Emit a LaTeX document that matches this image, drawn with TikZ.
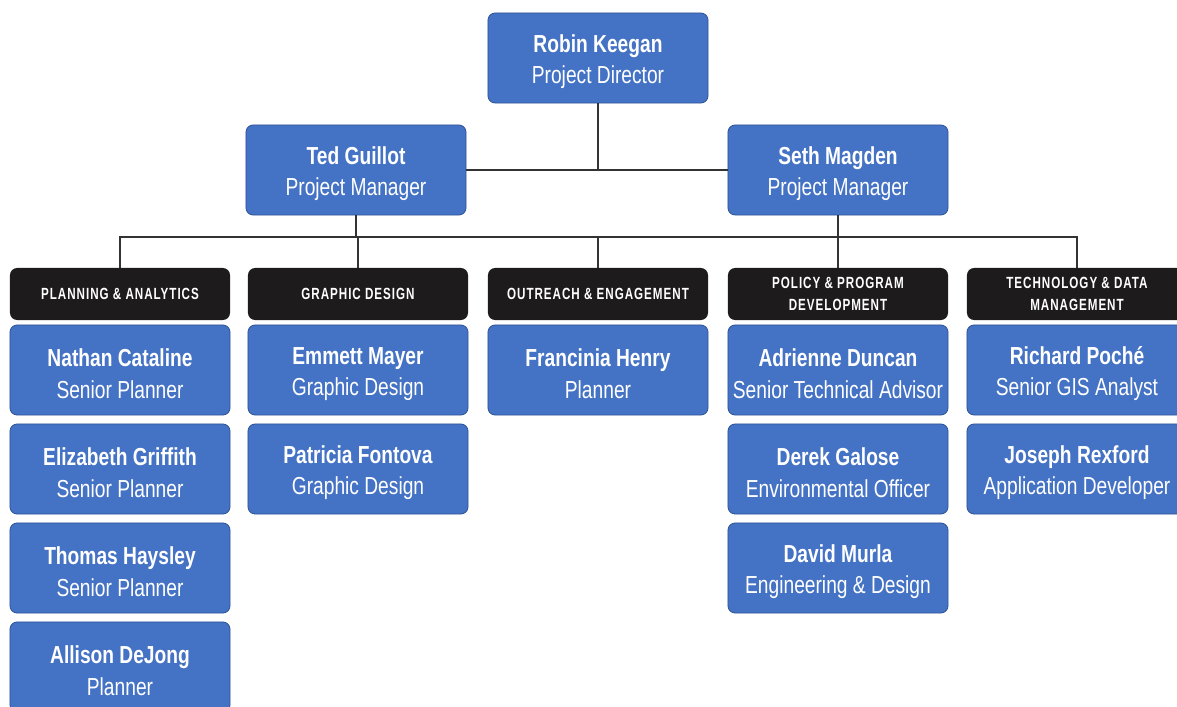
\documentclass[tikz,border=0pt]{standalone}
\usepackage{fontspec}
\setmainfont{Liberation Sans}[FakeStretch=0.78]
\newfontfamily\headfont{Liberation Sans}[FakeStretch=0.72,LetterSpace=6]
\usetikzlibrary{positioning}
\definecolor{staffblue}{HTML}{4472C4}
\definecolor{staffedge}{HTML}{2F5597}
\definecolor{headblack}{HTML}{1D1B1C}
\definecolor{linkgray}{HTML}{333333}
\newcommand{\who}[2]{\rule{0pt}{18pt}\textbf{#1}\\#2}

\begin{document}
\begin{tikzpicture}[x=0.025cm, y=-0.025cm,
    staff/.style={draw=staffedge, line width=0.6pt, fill=staffblue, rounded corners=0.18cm,
        minimum width=5.5cm, minimum height=2.25cm, inner sep=0pt, align=center, text=white,
        font=\fontsize{17.5}{22.5}\selectfont},
    head/.style={fill=headblack, rounded corners=0.18cm, minimum width=5.5cm, minimum height=1.3cm,
        inner sep=0pt, align=center, text=white, font=\headfont\bfseries\fontsize{11.5}{15.5}\selectfont},
    link/.style={draw=linkgray, line width=2.1pt}]
    \useasboundingbox (0,0) rectangle (1177,707);
    \clip (0,0) rectangle (1177,707);

    % Director and managers
    \node[staff] (robin) at (598,58) {\who{Robin Keegan}{Project Director}};
    \node[staff] (ted) at (356,170) {\who{Ted Guillot}{Project Manager}};
    \node[staff] (seth) at (838,170) {\who{Seth Magden}{Project Manager}};

    % Team headers
    \node[head] (plan) at (120,294) {PLANNING \& ANALYTICS};
    \node[head] (graph) at (358,294) {GRAPHIC DESIGN};
    \node[head] (outr) at (598,294) {OUTREACH \& ENGAGEMENT};
    \node[head] (policy) at (838,294) {POLICY \& PROGRAM\\DEVELOPMENT};
    \node[head] (tech) at (1077,294) {TECHNOLOGY \& DATA\\MANAGEMENT};

    % Planning & analytics
    \node[staff] (nathan) at (120,370) {\who{Nathan Cataline}{Senior Planner}};
    \node[staff] (eliz) at (120,469) {\who{Elizabeth Griffith}{Senior Planner}};
    \node[staff] (thomas) at (120,568) {\who{Thomas Haysley}{Senior Planner}};
    \node[staff] (allison) at (120,667) {\who{Allison DeJong}{Planner}};

    % Graphic design
    \node[staff] (emmett) at (358,370) {\who{Emmett Mayer}{Graphic Design}};
    \node[staff] (patricia) at (358,469) {\who{Patricia Fontova}{Graphic Design}};

    % Outreach & engagement
    \node[staff] (francinia) at (598,370) {\who{Francinia Henry}{Planner}};

    % Policy & program development
    \node[staff] (adrienne) at (838,370) {\who{Adrienne Duncan}{Senior Technical Advisor}};
    \node[staff] (derek) at (838,469) {\who{Derek Galose}{Environmental Officer}};
    \node[staff] (david) at (838,568) {\who{David Murla}{Engineering \& Design}};

    % Technology & data management
    \node[staff] (richard) at (1077,370) {\who{Richard Poché}{Senior GIS Analyst}};
    \node[staff] (joseph) at (1077,469) {\who{Joseph Rexford}{Application Developer}};

    % Links
    \coordinate (bus) at (598,237);
    \draw[link] (ted) -- (seth);
    \draw[link] (robin.south) -- (robin.south |- ted.east);
    \draw[link] (ted.south) -- (ted.south |- bus);
    \draw[link] (seth.south) -- (seth.south |- bus);
    \draw[link] (plan.north) |- (bus) -| (tech.north);
    \foreach \h in {graph,outr,policy} {
        \draw[link] (\h.north) -- (\h.north |- bus);
    }
\end{tikzpicture}
\end{document}
